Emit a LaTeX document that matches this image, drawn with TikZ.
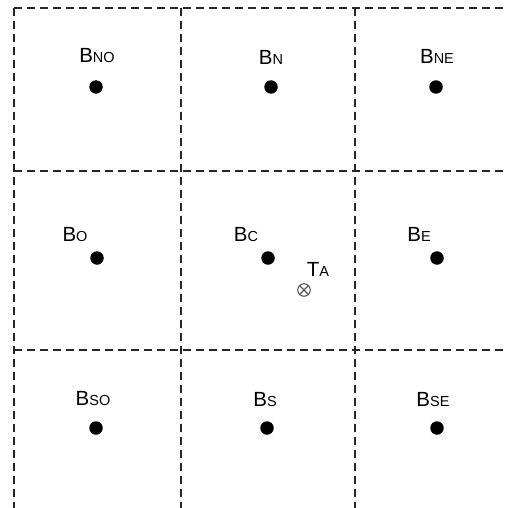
\documentclass[tikz,border=0pt]{standalone}
\usepackage{fontspec}
\setmainfont{Liberation Sans}
\begin{document}
\begin{tikzpicture}[x=1pt,y=-1pt,
  gridline/.style={line width=1.7pt, dash pattern=on 8pt off 5pt, black!85},
  dot/.style={circle, fill=black, inner sep=0pt, minimum size=13.5pt},
  lbl/.style={inner sep=0pt, font=\fontsize{20.5}{23}\selectfont},
  target/.style={circle, draw=black!65, line width=1.1pt, inner sep=0pt, minimum size=12.5pt,
    path picture={\draw[black!65, line width=1.1pt] (path picture bounding box.north west) -- (path picture bounding box.south east) (path picture bounding box.north east) -- (path picture bounding box.south west);}}]
\newcommand{\bsub}[1]{B{\fontsize{14.5}{16}\selectfont #1}}
\useasboundingbox (0,0) rectangle (507,508);
% grid
\coordinate (t0) at (14,8);   \coordinate (t3) at (507,8);
\coordinate (m0) at (14,171); \coordinate (m3) at (507,171);
\coordinate (n0) at (14,350); \coordinate (n3) at (507,350);
\coordinate (v0) at (14,508);
\coordinate (a0) at (181,8);  \coordinate (a1) at (181,508);
\coordinate (b0) at (355,8);  \coordinate (b1) at (355,508);
\draw[gridline] (t0) -- (t3);
\draw[gridline] (m0) -- (m3);
\draw[gridline] (n0) -- (n3);
\draw[gridline] (t0) -- (v0);
\draw[gridline] (a0) -- (a1);
\draw[gridline] (b0) -- (b1);
% dots
\node[dot] (no) at (96,87) {};
\node[dot] (n) at (271,87) {};
\node[dot] (ne) at (436,87) {};
\node[dot] (o) at (97,258) {};
\node[dot] (c) at (268,258) {};
\node[dot] (e) at (437,258) {};
\node[dot] (so) at (96,428) {};
\node[dot] (s) at (267,428) {};
\node[dot] (se) at (437,428) {};
\node[target] (ta) at (304,290) {};
% labels
\node[lbl] (lno) at (97,56) {\bsub{NO}};
\node[lbl] (ln) at (271,57) {\bsub{N}};
\node[lbl] (lne) at (437,56) {\bsub{NE}};
\node[lbl] (lo) at (75,235) {\bsub{O}};
\node[lbl] (lc) at (246,235) {\bsub{C}};
\node[lbl] (le) at (419,234) {\bsub{E}};
\node[lbl] (lso) at (93,399) {\bsub{SO}};
\node[lbl] (ls) at (265,400) {\bsub{S}};
\node[lbl] (lse) at (433,400) {\bsub{SE}};
\node[lbl] (lta) at (318,269) {T{\fontsize{14.5}{16}\selectfont A}};
\end{tikzpicture}
\end{document}
